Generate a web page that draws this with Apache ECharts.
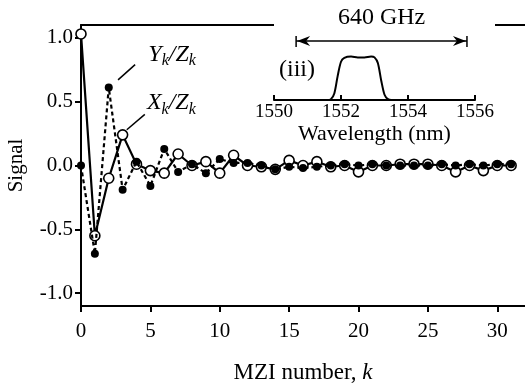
<!DOCTYPE html>
<html><head><meta charset="utf-8">
<script src="https://cdn.jsdelivr.net/npm/echarts@6/dist/echarts.min.js"></script>
<style>html,body{margin:0;padding:0;background:#fff}#c{width:525px;height:386px}</style>
</head><body><div id="c"></div>
<script>
// ---- data ----
const kValues = [0,1,2,3,4,5,6,7,8,9,10,11,12,13,14,15,16,17,18,19,20,21,22,23,24,25,26,27,28,29,30,31];
const xOverZ = [1.03,-0.55,-0.10,0.24,0.01,-0.04,-0.06,0.09,0.00,0.03,-0.06,0.08,0.00,-0.01,-0.03,0.04,0.00,0.03,-0.01,0.00,-0.05,0.00,0.00,0.01,0.01,0.01,0.00,-0.05,0.00,-0.04,0.00,0.00];
const yOverZ = [0.00,-0.69,0.61,-0.19,0.03,-0.16,0.13,-0.05,0.01,-0.06,0.05,0.02,0.02,0.00,-0.03,-0.01,-0.02,-0.01,0.00,0.01,0.00,0.01,0.00,0.00,0.00,0.00,0.01,0.00,0.01,0.00,0.01,0.01];
const yTickValues = [-1.0,-0.5,0.0,0.5,1.0];
const xTickValues = [0,5,10,15,20,25,30];
const wavelength = [1550.0,1551.0,1551.6,1551.7,1551.8,1551.9,1552.0,1552.1,1552.3,1552.5,1552.7,1552.9,1553.0,1553.1,1553.2,1553.3,1553.4,1553.5,1554.0,1556.0];
const transmission = [0,0,0,0.02,0.15,0.55,0.88,0.97,1.0,0.98,0.98,1.0,0.98,0.85,0.45,0.12,0.02,0,0,0];
const insetTicks = [1550,1552,1554,1556];
const bandEdges = [1550.66,1555.76];

const FONT = '"Liberation Serif","Times New Roman",serif';
const chart = echarts.init(document.getElementById('c'), null, {renderer:'canvas'});
const insetYMax = 1.15;

chart.setOption({
  animation:false,
  backgroundColor:'#fff',
  grid:[
    {left:81, right:0, top:25, bottom:80, containLabel:false, outerBoundsMode:'none'},
    {left:274, width:201, top:50, height:50, containLabel:false, outerBoundsMode:'none'}
  ],
  xAxis:[
    {gridIndex:0, type:'value', min:0, max:32,
     axisLine:{onZero:false, lineStyle:{color:'#000', width:2}},
     axisTick:{customValues:xTickValues, length:6, inside:false, lineStyle:{color:'#000', width:2}},
     axisLabel:{customValues:xTickValues, color:'#000', fontFamily:FONT, fontSize:21, margin:15},
     splitLine:{show:false},
     name:'{a|MZI number, }{b|k}', nameLocation:'middle', nameGap:55,
     nameTextStyle:{rich:{a:{fontFamily:FONT,fontSize:23,color:'#000'},b:{fontFamily:FONT,fontSize:23,fontStyle:'italic',color:'#000'}}}
    },
    {gridIndex:0, type:'value', min:0, max:32, position:'top',
     axisLine:{onZero:false, lineStyle:{color:'#000', width:2}},
     axisTick:{show:false}, axisLabel:{show:false}, splitLine:{show:false}},
    {gridIndex:1, type:'value', min:1550, max:1556,
     axisLine:{onZero:false, lineStyle:{color:'#000', width:2}},
     axisTick:{customValues:insetTicks, inside:true, length:5, lineStyle:{color:'#000', width:2}},
     axisLabel:{customValues:insetTicks, color:'#000', fontFamily:FONT, fontSize:19, margin:3,
       formatter:v=>String(v)},
     splitLine:{show:false},
     name:'Wavelength (nm)', nameLocation:'middle', nameGap:21,
     nameTextStyle:{fontFamily:FONT, fontSize:22, color:'#000'}
    }
  ],
  yAxis:[
    {gridIndex:0, type:'value', min:-1.1, max:1.1,
     axisLine:{onZero:false, lineStyle:{color:'#000', width:2}},
     axisTick:{customValues:yTickValues, length:6, lineStyle:{color:'#000', width:2}},
     axisLabel:{customValues:yTickValues, color:'#000', fontFamily:FONT, fontSize:21, margin:8,
       formatter:v=>v.toFixed(1)},
     splitLine:{show:false},
     name:'Signal', nameLocation:'middle', nameGap:54,
     nameTextStyle:{fontFamily:FONT, fontSize:21, color:'#000'}
    },
    {gridIndex:1, type:'value', min:0, max:insetYMax, show:false}
  ],
  series:[
    {type:'line', xAxisIndex:0, yAxisIndex:0, name:'X/Z',
     data:kValues.map((k,i)=>[k,xOverZ[i]]),
     lineStyle:{color:'#000', width:2.2},
     symbol:'circle', symbolSize:10, showAllSymbol:true,
     itemStyle:{color:'#fff', borderColor:'#000', borderWidth:1.6}, z:2},
    {type:'line', xAxisIndex:0, yAxisIndex:0, name:'Y/Z',
     data:kValues.map((k,i)=>[k,yOverZ[i]]),
     lineStyle:{color:'#000', width:2.2, type:[4,3]},
     symbol:'circle', symbolSize:8, itemStyle:{color:'#000'}, z:3},
    {type:'line', xAxisIndex:2, yAxisIndex:1, name:'inset',
     data:wavelength.map((w,i)=>[w,transmission[i]]),
     smooth:0.3, showSymbol:false, lineStyle:{color:'#000', width:2}, z:3}
  ]
});

// ---- annotations positioned through the axes ----
const P0 = (x,y)=>chart.convertToPixel({gridIndex:0},[x,y]);
const P1 = (x,y)=>chart.convertToPixel({gridIndex:1},[x,y]);
const a1 = P0(2.67,0.67), a2 = P0(3.9,0.79);
const b1 = P0(3.3,0.28), b2 = P0(4.6,0.40);
const yLab = P0(4.85,0.87), xLab = P0(4.75,0.49);
const arL = P1(bandEdges[0],1.357), arR = P1(bandEdges[1],1.357);
const barTop = P1(bandEdges[0],1.47)[1], barBot = P1(bandEdges[0],1.22)[1];
const ghz = P1((bandEdges[0]+bandEdges[1])/2, 1.886);
const iii = P1(1550.15, 0.69);
const ay = arL[1];
const rich = {
  v:{fontFamily:FONT,fontSize:24,fontStyle:'italic',fill:'#000'},
  s:{fontFamily:FONT,fontSize:16,fontStyle:'italic',fill:'#000',padding:[13,0,0,0]},
  n:{fontFamily:FONT,fontSize:24,fill:'#000'}
};
chart.setOption({graphic:[
  {type:'rect', z:5, shape:{x:274, y:18, width:221, height:14}, style:{fill:'#fff'}},
  {type:'line', z:10, shape:{x1:a1[0],y1:a1[1],x2:a2[0],y2:a2[1]}, style:{stroke:'#000',lineWidth:1.5}},
  {type:'line', z:10, shape:{x1:b1[0],y1:b1[1],x2:b2[0],y2:b2[1]}, style:{stroke:'#000',lineWidth:1.5}},
  {type:'text', z:10, x:yLab[0], y:yLab[1], style:{text:'{v|Y}{s|k}{v|/Z}{s|k}', rich:rich, verticalAlign:'middle'}},
  {type:'text', z:10, x:xLab[0], y:xLab[1], style:{text:'{v|X}{s|k}{v|/Z}{s|k}', rich:rich, verticalAlign:'middle'}},
  {type:'line', z:10, shape:{x1:arL[0],y1:ay,x2:arR[0],y2:ay}, style:{stroke:'#000',lineWidth:1.5}},
  {type:'line', z:10, shape:{x1:arL[0],y1:barTop,x2:arL[0],y2:barBot}, style:{stroke:'#000',lineWidth:1.5}},
  {type:'line', z:10, shape:{x1:arR[0],y1:barTop,x2:arR[0],y2:barBot}, style:{stroke:'#000',lineWidth:1.5}},
  {type:'polygon', z:10, shape:{points:[[arL[0]+1,ay],[arL[0]+14,ay-5],[arL[0]+10,ay],[arL[0]+14,ay+5]]}, style:{fill:'#000'}},
  {type:'polygon', z:10, shape:{points:[[arR[0]-1,ay],[arR[0]-14,ay-5],[arR[0]-10,ay],[arR[0]-14,ay+5]]}, style:{fill:'#000'}},
  {type:'text', z:10, x:ghz[0], y:ghz[1], style:{text:'640 GHz', fontFamily:FONT, fontSize:24, fill:'#000', align:'center', verticalAlign:'middle'}},
  {type:'text', z:10, x:iii[0], y:iii[1], style:{text:'(iii)', fontFamily:FONT, fontSize:24, fill:'#000', align:'left', verticalAlign:'middle'}}
]});
</script>
</body></html>
